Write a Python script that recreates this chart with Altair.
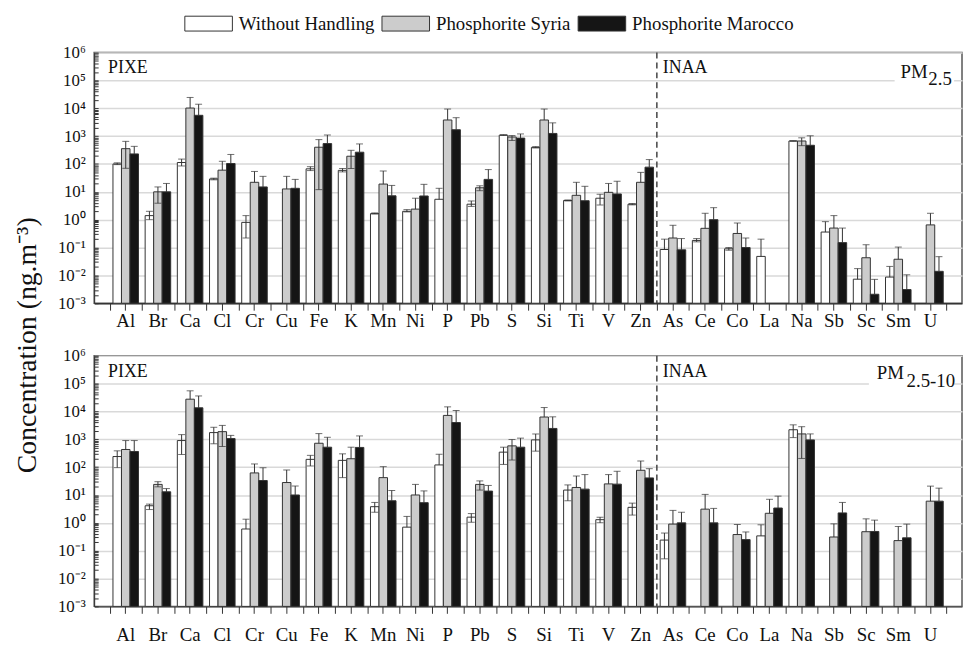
import altair as alt
import pandas as pd

N = None
elements = ["Al", "Br", "Ca", "Cl", "Cr", "Cu", "Fe", "K", "Mn", "Ni", "P", "Pb", "S", "Si",
            "Ti", "V", "Zn", "As", "Ce", "Co", "La", "Na", "Sb", "Sc", "Sm", "U"]
series = ["Without Handling", "Phosphorite Syria", "Phosphorite Marocco"]
colors = ["#ffffff", "#cccccc", "#151515"]

# ---- PM2.5 ----
pm25_white = [100, 1.4, 113, 29, 0.8, N, 67, 59, 1.65, 2.0, 5.4, 3.6, 1090, 395, 4.9, 5.9, 3.6, 0.085, 0.18, 0.09, 0.048, 670, 0.36, 0.0073, 0.0087, N]
pm25_white_hi = [110, 2.0, 150, 31, 1.4, N, 80, 69, 1.75, 2.3, 13.4, 4.7, 1120, 420, 5.1, 8.2, 3.8, 0.2, 0.21, 0.1, 0.2, 680, 0.85, 0.0175, 0.021, N]
pm25_white_lo = [95, 1.0, 85, 27, 0.22, N, 58, 52, 1.6, 1.9, N, 3.0, 1060, 375, 4.7, 3.4, 3.4, N, 0.16, 0.08, N, 660, N, N, N, N]

pm25_syria = [355, 10, 10200, 60, 22, 12.7, 400, 190, 19, 2.4, 3800, 14, 930, 3800, 7.5, 9.6, 22, 0.22, 0.49, 0.32, N, 670, 0.5, 0.043, 0.038, 0.65]
pm25_syria_hi = [650, 15, 24500, 125, 54, 36, 750, 310, 56, 5.9, 9400, 16.5, 1050, 9400, 22, 20, 50, 0.63, 1.7, 0.76, N, 870, 1.4, 0.126, 0.104, 1.7]
pm25_syria_lo = [70, 3.9, N, N, N, N, 12, 69, N, N, N, 11, 700, N, N, N, N, N, N, N, N, 455, N, N, N, N]

pm25_maroc = [230, 10, 5600, 104, 15, 13.4, 540, 265, 7.2, 7.1, 1700, 28, 850, 1250, 4.8, 8.4, 77, 0.083, 1.0, 0.1, N, 470, 0.15, 0.0021, 0.0031, 0.014]
pm25_maroc_hi = [430, 20, 14000, 220, 36, 28, 1100, 525, 17, 18.6, 4600, 63, 1200, 3000, 15.8, 24, 144, 0.21, 2.7, 0.22, N, 1030, 0.5, 0.0072, 0.0105, 0.047]
pm25_maroc_lo = [N] * 26

# ---- PM2.5-10 ----
pm10_white = [240, 4.1, 900, 1740, 0.6, N, 190, 175, 3.8, 0.7, 120, 1.6, 345, 950, 15, 1.3, 3.6, 0.24, N, N, 0.34, 2200, N, N, N, N]
pm10_white_hi = [385, 4.7, 1470, 2700, 1.35, N, 265, 300, 5.4, 1.7, 290, 2.15, 520, 1550, 23, 1.6, 5.1, 0.43, N, N, 0.85, 3300, N, N, N, N]
pm10_white_lo = [96, 3.0, 285, 690, N, N, 110, 42, 2.4, N, N, 1.05, 125, 375, 6.2, 1.0, 1.9, 0.051, N, N, N, 1150, N, N, N, N]

pm10_syria = [430, 24, 27500, 1880, 62, 28, 720, 200, 42, 10, 7200, 24, 580, 6300, 18.6, 25, 77, 0.9, 3.1, 0.38, 2.2, 1560, 0.31, 0.48, 0.23, 6.0]
pm10_syria_hi = [900, 30, 55000, 3150, 130, 79, 1600, 520, 104, 24, 14600, 32, 980, 13800, 48, 54, 166, 2.8, 10.5, 0.87, 7.0, 2830, 0.92, 1.39, 0.74, 20.8]
pm10_syria_lo = [N, 19.6, N, 550, N, N, N, N, N, N, N, 15, 180, N, N, N, N, N, N, N, N, 205, N, N, N, N]

pm10_maroc = [365, 13, 13500, 1060, 33, 10, 520, 510, 6.2, 5.3, 4000, 13.8, 520, 2450, 16.2, 24.5, 41, 1.0, 1.0, 0.25, 3.4, 950, 2.27, 0.49, 0.29, 6.0]
pm10_maroc_hi = [900, 17, 36000, 1380, 95, 21, 1180, 1320, 14.5, 14, 10800, 22, 1100, 6400, 54, 71, 88, 2.4, 3.3, 0.47, 9.1, 1560, 5.4, 1.25, 0.9, 17.6]
pm10_maroc_lo = [N] * 26

y_min, y_max = 0.001, 1000000
y_ticks = [0.001, 0.01, 0.1, 1, 10, 100, 1000, 10000, 100000, 1000000]
y_tick_labels = ["10⁻³", "10⁻²", "10⁻¹", "10⁰", "10¹", "10²", "10³", "10⁴", "10⁵", "10⁶"]
minor_ticks = [k * 10.0 ** e for e in range(-3, 6) for k in range(1, 10)] + [1e6]

FONT = "Liberation Serif"
W, H = 876, 253


def build_df(groups):
    rows = []
    for s, (vals, his, los) in zip(series, groups):
        for el, v, h, l in zip(elements, vals, his, los):
            if v is None:
                continue
            rows.append({"el": el, "series": s, "value": v, "hi": h,
                         "lo": l, "lo2": l if l is not None else v})
    return pd.DataFrame(rows)


df25 = build_df([(pm25_white, pm25_white_hi, pm25_white_lo),
                 (pm25_syria, pm25_syria_hi, pm25_syria_lo),
                 (pm25_maroc, pm25_maroc_hi, pm25_maroc_lo)])
df10 = build_df([(pm10_white, pm10_white_hi, pm10_white_lo),
                 (pm10_syria, pm10_syria_hi, pm10_syria_lo),
                 (pm10_maroc, pm10_maroc_hi, pm10_maroc_lo)])

label_expr = ""
for t, lab in zip(y_ticks[:-1], y_tick_labels[:-1]):
    label_expr += f"datum.value < {t * 3} ? '{lab}' : "
label_expr += f"'{y_tick_labels[-1]}'"

xscale = alt.Scale(domain=elements, paddingInner=0, paddingOuter=0.48)
yscale = alt.Scale(type="log", domain=[y_min, y_max], nice=False)
offscale = alt.Scale(domain=series, paddingInner=0, paddingOuter=0.39)

# wide rectangle swatch (48 x 15 px with symbolSize 576)
legend_rect = "M-2,-0.625H2V0.625H-2Z"


def panel(df, pm_sub, pm_x, sub_x, pm_y, sub_y, box_x, with_title, xlab_pad):
    base = alt.Chart(df)
    main_y_axis = alt.Axis(orient="left", values=y_ticks, labelExpr=label_expr,
                           ticks=False, grid=True, gridColor="#d9d9d9", gridWidth=1.5,
                           domain=True, domainColor="#333333", labelFont=FONT,
                           labelFontSize=17, labelColor="#111111", labelPadding=9,
                           title="Concentration (ng.m⁻³)" if with_title else None,
                           titleFont=FONT, titleFontSize=28, titleFontWeight="normal",
                           titleColor="#111111", titleX=-67, titleY=295,
                           titleBaseline="middle", titleAngle=270)
    bars = base.mark_bar(stroke="#333333", strokeWidth=1).encode(
        x=alt.X("el:N", scale=xscale, title=None,
                axis=alt.Axis(orient="bottom", labelAngle=0, labelFont=FONT,
                              labelFontSize=19, labelColor="#111111", labelPadding=xlab_pad,
                              ticks=True, tickSize=7, tickColor="#333333",
                              domain=True, domainColor="#333333", domainWidth=1.5,
                              grid=False)),
        xOffset=alt.XOffset("series:N", scale=offscale, sort=series),
        y=alt.Y("value:Q", scale=yscale, axis=main_y_axis),
        y2=alt.datum(y_min),
        fill=alt.Fill("series:N", scale=alt.Scale(domain=series, range=colors),
                      legend=alt.Legend(orient="none", legendX=103, legendY=-42,
                                        direction="horizontal", title=None,
                                        symbolType=legend_rect, symbolSize=576,
                                        symbolStrokeColor="#333333", symbolStrokeWidth=1,
                                        labelFont=FONT, labelFontSize=19, labelLimit=300,
                                        labelColor="#111111", labelOffset=18,
                                        columnPadding=5)),
    )
    err = base.mark_rule(color="#333333", strokeWidth=1).encode(
        x=alt.X("el:N", scale=xscale, axis=None),
        xOffset=alt.XOffset("series:N", scale=offscale, sort=series),
        y=alt.Y("lo2:Q", scale=yscale,
                axis=alt.Axis(orient="left", values=minor_ticks, labels=False,
                              domain=False, grid=False, ticks=True, tickSize=4,
                              tickColor="#333333", offset=-4, title=None)),
        y2="hi:Q",
    )
    cap_hi = base.mark_tick(color="#333333", size=7, thickness=1).encode(
        x=alt.X("el:N", scale=xscale, axis=None),
        xOffset=alt.XOffset("series:N", scale=offscale, sort=series),
        y=alt.Y("hi:Q", scale=yscale, axis=None),
    )
    cap_lo = base.transform_filter("isValid(datum.lo)").mark_tick(
        color="#333333", size=7, thickness=1).encode(
        x=alt.X("el:N", scale=xscale, axis=None),
        xOffset=alt.XOffset("series:N", scale=offscale, sort=series),
        y=alt.Y("lo:Q", scale=yscale, axis=None),
    )
    divider = alt.Chart(pd.DataFrame({"el": ["As"]})).mark_rule(
        color="#444444", strokeWidth=1.5, strokeDash=[6, 4]).encode(
        x=alt.X("el:N", scale=xscale, bandPosition=0,
                axis=alt.Axis(orient="bottom", tickBand="extent", labels=False,
                              domain=False, grid=False, ticks=True, tickSize=7,
                              tickColor="#333333", title=None)),
    )
    box = alt.Chart(pd.DataFrame({"a": [1]})).mark_rect(fill="white").encode(
        x=alt.value(box_x), x2=alt.value(868), y=alt.value(10), y2=alt.value(40))
    pixe = alt.Chart(pd.DataFrame({"t": ["PIXE"]})).mark_text(
        align="left", baseline="alphabetic", font=FONT, fontSize=18, color="#111111").encode(
        x=alt.value(14), y=alt.value(21), text="t:N")
    inaa = alt.Chart(pd.DataFrame({"t": ["INAA"]})).mark_text(
        align="left", baseline="alphabetic", font=FONT, fontSize=18, color="#111111").encode(
        x=alt.value(574), y=alt.value(21), text="t:N")
    pm = alt.Chart(pd.DataFrame({"t": ["PM"]})).mark_text(
        align="left", baseline="alphabetic", font=FONT, fontSize=19, color="#111111").encode(
        x=alt.value(pm_x), y=alt.value(pm_y), text="t:N")
    sub = alt.Chart(pd.DataFrame({"t": [pm_sub]})).mark_text(
        align="left", baseline="alphabetic", font=FONT, fontSize=19, color="#111111").encode(
        x=alt.value(sub_x), y=alt.value(sub_y), text="t:N")
    return alt.layer(box, bars, err, cap_hi, cap_lo, divider, pixe, inaa, pm, sub).resolve_scale(
        x="shared", y="shared").resolve_axis(x="independent", y="independent").properties(
        width=W, height=H)


top = panel(df25, "2.5", 814, 842, 26, 33, 808, True, 1)
bottom = panel(df10, "2.5-10", 790, 820, 23, 32, 782, False, 12)

chart = alt.vconcat(top, bottom, spacing=53).properties(
    bounds="flush",
    padding={"left": 5, "top": 0, "right": 0, "bottom": 0},
).configure(background="white", font=FONT).configure_view(stroke="#555555", strokeWidth=1.5)

chart.save("out.html", embed_options={"renderer": "svg", "actions": False})
